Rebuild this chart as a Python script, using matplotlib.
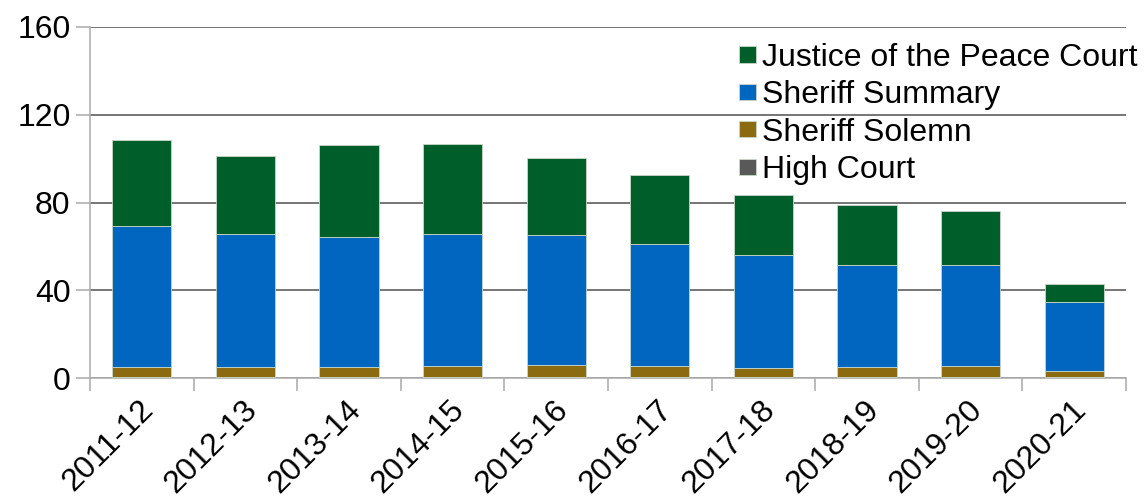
import matplotlib.pyplot as plt
import matplotlib.transforms as mtransforms
import numpy as np

plt.rcParams['font.family'] = ['Liberation Sans', 'DejaVu Sans']

years = ['2011-12', '2012-13', '2013-14', '2014-15', '2015-16',
         '2016-17', '2017-18', '2018-19', '2019-20', '2020-21']
high_court = [0.6, 0.6, 0.6, 0.6, 0.6, 0.6, 0.5, 0.5, 0.5, 0.4]
sheriff_solemn = [4.4, 4.4, 4.4, 4.9, 5.2, 4.7, 4.1, 4.4, 4.8, 2.9]
sheriff_summary = [64.4, 60.5, 59.1, 60.0, 59.2, 55.8, 51.3, 46.6, 46.2, 31.2]
jp_court = [39.2, 35.8, 41.9, 41.3, 35.1, 31.6, 27.5, 27.2, 24.5, 8.2]

series = [
    ('High Court', high_court, '#595959'),
    ('Sheriff Solemn', sheriff_solemn, '#8B6A10'),
    ('Sheriff Summary', sheriff_summary, '#0066BF'),
    ('Justice of the Peace Court', jp_court, '#005E2A'),
]

fig = plt.figure(figsize=(11.45, 5.03), dpi=100)
ax = fig.add_axes([90 / 1145, 1 - 378 / 503, (1126 - 90) / 1145, (378 - 27) / 503])

x = np.arange(len(years))
bottom = np.zeros(len(years))
for name, vals, color in series:
    ax.bar(x, vals, width=0.57, bottom=bottom, color=color, label=name,
           edgecolor='#c8d8c8', linewidth=0.6, zorder=3)
    bottom += np.array(vals)

ax.set_xlim(-0.5, len(years) - 0.5)
ax.set_ylim(0, 160)
ax.set_yticks([0, 40, 80, 120, 160])
ax.yaxis.grid(True, color='#5e5e5e', linewidth=1.2, zorder=0)
ax.set_axisbelow(True)

ax.set_xticks(x)
ax.set_xticklabels(years, rotation=45, ha='right', rotation_mode='anchor')
ax.set_xticks(np.arange(len(years) + 1) - 0.5, minor=True)
ax.tick_params(axis='x', which='major', length=0, pad=12, labelsize=23)
ax.tick_params(axis='x', which='minor', length=9, color='#b0b0b0', width=1.2)
ax.tick_params(axis='y', length=10, color='#b0b0b0', width=1.2, labelsize=23, pad=4)

shift = mtransforms.ScaledTranslation(-3 / 100, 0, fig.dpi_scale_trans)
for lbl in ax.get_xticklabels():
    lbl.set_transform(lbl.get_transform() + shift)

for side in ['top', 'right']:
    ax.spines[side].set_visible(False)
for side in ['left', 'bottom']:
    ax.spines[side].set_color('#b0b0b0')
    ax.spines[side].set_linewidth(1.2)

handles, labels = ax.get_legend_handles_labels()
ax.legend(handles[::-1], labels[::-1], loc='upper right', bbox_to_anchor=(1.027, 1.0),
          frameon=False, fontsize=23, handlelength=0.52, handleheight=0.4,
          handletextpad=0.2, labelspacing=0.23, borderaxespad=0.1)

fig.savefig('out.png', dpi=100)
